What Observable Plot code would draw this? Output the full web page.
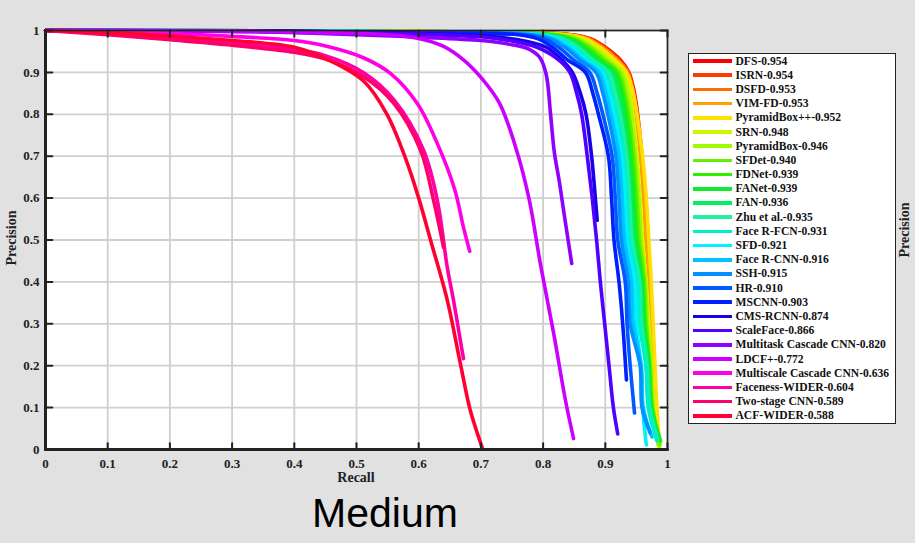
<!DOCTYPE html>
<html><head><meta charset="utf-8">
<script src="https://cdn.jsdelivr.net/npm/d3@7"></script>
<script src="https://cdn.jsdelivr.net/npm/@observablehq/plot@0.6"></script>
<style>
html,body{margin:0;padding:0;background:#e1e1e1;}
#wrap{position:relative;width:915px;height:543px;overflow:hidden;background:#e1e1e1;font-family:"Liberation Serif","Times New Roman",serif;}
#chart{position:absolute;left:0;top:0;width:915px;height:543px;}
#legend{position:absolute;left:688px;top:53px;width:208px;background:#fff;border:1.6px solid #222;box-sizing:border-box;}
.row{height:14.2px;display:flex;align-items:center;white-space:nowrap;}
.sw{width:39px;height:3.6px;margin-left:3.5px;margin-right:4px;flex:none;}
.lt{font-weight:bold;font-size:11.6px;color:#111;}
.ylab{position:absolute;font-weight:bold;font-size:14px;color:#222;transform:rotate(-90deg);transform-origin:center;white-space:nowrap;}
#xlab{position:absolute;left:306px;width:100px;text-align:center;top:470px;font-weight:bold;font-size:14px;color:#222;}
#title{position:absolute;left:285px;width:200px;text-align:center;top:490px;font-family:"Liberation Sans",Arial,sans-serif;font-size:41px;color:#000;}
</style></head>
<body>
<div id="wrap">
  <div id="chart"></div>
  <div id="legend"></div>
  <div class="ylab" style="left:-20px;top:230px;width:64px;text-align:center;">Precision</div>
  <div class="ylab" style="left:873px;top:222px;width:64px;text-align:center;">Precision</div>
  <div id="xlab">Recall</div>
  <div id="title">Medium</div>
</div>
<script>
// ---- data ----
const methods = ["DFS","ISRN","DSFD","VIM-FD","PyramidBox++","SRN","PyramidBox","SFDet","FDNet","FANet","FAN","Zhu et al.","Face R-FCN","SFD","Face R-CNN","SSH","HR","MSCNN","CMS-RCNN","ScaleFace","Multitask Cascade CNN","LDCF+","Multiscale Cascade CNN","Faceness-WIDER","Two-stage CNN","ACF-WIDER"];
const apScores = ["0.954","0.954","0.953","0.953","0.952","0.948","0.946","0.940","0.939","0.939","0.936","0.935","0.931","0.921","0.916","0.915","0.910","0.903","0.874","0.866","0.820","0.772","0.636","0.604","0.589","0.588"];
const colors = ["#ff0000","#ff3a00","#ff6c00","#ffa000","#ffe000","#d4f500","#a0fa00","#66f000","#30f000","#10ea30","#00f060","#20f0a0","#00f0cc","#00f0ff","#00c4ff","#0090ff","#0058ff","#0020ff","#1800e8","#5000ff","#9000ff","#cc00ff","#ff00e6","#ff00a8","#ff0068","#ff0030"];
const xTicks = [0,0.1,0.2,0.3,0.4,0.5,0.6,0.7,0.8,0.9,1];
const xTickLabels = ["0","0.1","0.2","0.3","0.4","0.5","0.6","0.7","0.8","0.9","1"];
const yTicks = [0,0.1,0.2,0.3,0.4,0.5,0.6,0.7,0.8,0.9,1];
const yTickLabels = ["0","0.1","0.2","0.3","0.4","0.5","0.6","0.7","0.8","0.9","1"];

// precision-recall points [recall, precision]
const prDFS   = [[0,1],[0.4,0.999],[0.65,0.997],[0.845,0.99],[0.877,0.98],[0.9,0.96],[0.924,0.93],[0.938,0.9],[0.947,0.85],[0.952,0.8],[0.959,0.7],[0.964,0.6],[0.968,0.5],[0.972,0.4],[0.975,0.3],[0.978,0.2],[0.981,0.1],[0.986,0.01]];
const prISRN  = [[0,1],[0.4,0.999],[0.65,0.997],[0.843,0.99],[0.875,0.98],[0.898,0.96],[0.922,0.93],[0.937,0.9],[0.946,0.85],[0.951,0.8],[0.958,0.7],[0.963,0.6],[0.967,0.5],[0.971,0.4],[0.974,0.3],[0.977,0.2],[0.98,0.1],[0.985,0.012]];
const prDSFD  = [[0,1],[0.4,0.999],[0.65,0.997],[0.841,0.99],[0.873,0.98],[0.896,0.96],[0.92,0.93],[0.936,0.9],[0.945,0.85],[0.95,0.8],[0.957,0.7],[0.962,0.6],[0.966,0.5],[0.971,0.4],[0.974,0.3],[0.977,0.2],[0.98,0.1],[0.986,0.008]];
const prVIM   = [[0,1],[0.4,0.999],[0.65,0.997],[0.839,0.99],[0.871,0.98],[0.894,0.96],[0.918,0.93],[0.935,0.9],[0.945,0.85],[0.95,0.8],[0.957,0.7],[0.962,0.6],[0.966,0.5],[0.972,0.4],[0.975,0.3],[0.978,0.2],[0.981,0.1],[0.985,0.02]];
const prPBpp  = [[0,1],[0.4,0.999],[0.65,0.997],[0.836,0.99],[0.868,0.98],[0.891,0.96],[0.915,0.93],[0.934,0.9],[0.945,0.85],[0.951,0.8],[0.96,0.7],[0.966,0.6],[0.97,0.5],[0.974,0.4],[0.977,0.3],[0.98,0.2],[0.983,0.1],[0.987,0.015]];
const prSRN   = [[0,1],[0.4,0.999],[0.63,0.997],[0.83,0.99],[0.862,0.98],[0.885,0.96],[0.909,0.93],[0.929,0.9],[0.939,0.85],[0.944,0.8],[0.951,0.7],[0.956,0.6],[0.96,0.5],[0.966,0.4],[0.97,0.3],[0.974,0.2],[0.978,0.1],[0.985,0.01]];
const prPB    = [[0,1],[0.4,0.999],[0.63,0.997],[0.825,0.99],[0.857,0.98],[0.88,0.96],[0.904,0.93],[0.926,0.9],[0.936,0.85],[0.942,0.8],[0.949,0.7],[0.954,0.6],[0.958,0.5],[0.965,0.4],[0.968,0.3],[0.973,0.2],[0.977,0.1],[0.987,0.005]];
const prSFDet = [[0,1],[0.4,0.999],[0.62,0.996],[0.82,0.99],[0.852,0.98],[0.875,0.96],[0.899,0.93],[0.922,0.9],[0.932,0.85],[0.938,0.8],[0.946,0.7],[0.951,0.6],[0.955,0.5],[0.963,0.4],[0.966,0.3],[0.972,0.2],[0.976,0.1],[0.988,0.012]];
const prFDNet = [[0,1],[0.4,0.999],[0.62,0.996],[0.815,0.99],[0.847,0.98],[0.87,0.96],[0.894,0.93],[0.918,0.9],[0.929,0.85],[0.935,0.8],[0.943,0.7],[0.948,0.6],[0.952,0.5],[0.961,0.4],[0.964,0.3],[0.971,0.2],[0.975,0.1],[0.989,0.02]];
const prFANet = [[0,1],[0.4,0.999],[0.61,0.996],[0.81,0.99],[0.842,0.98],[0.865,0.96],[0.889,0.93],[0.915,0.9],[0.926,0.85],[0.932,0.8],[0.94,0.7],[0.945,0.6],[0.949,0.5],[0.959,0.4],[0.962,0.3],[0.97,0.2],[0.974,0.1],[0.987,0.025]];
const prFAN   = [[0,1],[0.4,0.999],[0.61,0.996],[0.805,0.99],[0.837,0.98],[0.86,0.96],[0.884,0.93],[0.91,0.9],[0.921,0.85],[0.928,0.8],[0.937,0.7],[0.942,0.6],[0.946,0.5],[0.957,0.4],[0.96,0.3],[0.969,0.2],[0.973,0.1],[0.985,0.03]];
const prZhu   = [[0,1],[0.4,0.999],[0.6,0.996],[0.8,0.99],[0.832,0.98],[0.855,0.96],[0.879,0.93],[0.905,0.9],[0.916,0.85],[0.924,0.8],[0.934,0.7],[0.939,0.6],[0.943,0.5],[0.955,0.4],[0.958,0.3],[0.967,0.2],[0.971,0.1],[0.984,0.025]];
const prRFCN  = [[0,1],[0.4,0.999],[0.6,0.996],[0.795,0.99],[0.827,0.98],[0.85,0.96],[0.874,0.93],[0.9,0.9],[0.911,0.85],[0.919,0.8],[0.93,0.7],[0.935,0.6],[0.939,0.5],[0.952,0.4],[0.955,0.3],[0.965,0.2],[0.969,0.1],[0.983,0.02]];
const prSFD   = [[0,1],[0.4,0.999],[0.59,0.995],[0.79,0.99],[0.822,0.98],[0.845,0.96],[0.869,0.93],[0.895,0.9],[0.906,0.85],[0.914,0.8],[0.926,0.7],[0.931,0.6],[0.935,0.5],[0.947,0.4],[0.95,0.3],[0.957,0.2],[0.96,0.1],[0.966,0.011]];
const prRCNN  = [[0,1],[0.4,0.999],[0.59,0.995],[0.785,0.99],[0.817,0.98],[0.84,0.96],[0.864,0.93],[0.89,0.9],[0.901,0.85],[0.909,0.8],[0.922,0.7],[0.927,0.6],[0.931,0.5],[0.942,0.4],[0.945,0.3],[0.958,0.2],[0.961,0.1],[0.975,0.03]];
const prSSH   = [[0,1],[0.4,0.998],[0.58,0.995],[0.78,0.99],[0.812,0.98],[0.835,0.96],[0.859,0.93],[0.885,0.9],[0.896,0.85],[0.904,0.8],[0.917,0.7],[0.922,0.6],[0.926,0.5],[0.937,0.4],[0.94,0.3],[0.956,0.2],[0.959,0.1],[0.972,0.04]];
const prHR    = [[0,1],[0.4,0.998],[0.57,0.994],[0.77,0.99],[0.802,0.98],[0.825,0.96],[0.849,0.93],[0.875,0.9],[0.887,0.85],[0.896,0.8],[0.911,0.7],[0.916,0.6],[0.92,0.5],[0.932,0.4],[0.935,0.3],[0.94,0.2],[0.947,0.087]];
const prMSCNN = [[0,1],[0.4,0.998],[0.56,0.994],[0.76,0.99],[0.792,0.98],[0.815,0.96],[0.839,0.93],[0.868,0.9],[0.88,0.85],[0.889,0.8],[0.905,0.7],[0.91,0.6],[0.914,0.5],[0.922,0.4],[0.928,0.3],[0.934,0.166]];
const prCMS   = [[0,1],[0.4,0.998],[0.6,0.993],[0.72,0.985],[0.77,0.975],[0.805,0.96],[0.83,0.93],[0.847,0.9],[0.86,0.85],[0.869,0.8],[0.878,0.7],[0.884,0.6],[0.887,0.547]];
const prScale = [[0,1],[0.3,0.998],[0.55,0.993],[0.7,0.985],[0.75,0.975],[0.79,0.96],[0.825,0.93],[0.843,0.9],[0.854,0.85],[0.862,0.8],[0.871,0.7],[0.879,0.6],[0.886,0.5],[0.892,0.4],[0.899,0.3],[0.906,0.2],[0.913,0.1],[0.92,0.037]];
const prMTCNN = [[0,1],[0.3,0.998],[0.5,0.99],[0.6,0.984],[0.7,0.976],[0.75,0.966],[0.778,0.955],[0.795,0.935],[0.805,0.895],[0.812,0.8],[0.818,0.71],[0.826,0.64],[0.834,0.56],[0.846,0.444]];
const prLDCF  = [[0,1],[0.3,0.999],[0.45,0.995],[0.55,0.99],[0.6,0.981],[0.64,0.962],[0.672,0.93],[0.7,0.888],[0.73,0.826],[0.759,0.706],[0.778,0.594],[0.796,0.44],[0.817,0.277],[0.836,0.117],[0.849,0.026]];
const prMSCC  = [[0,1],[0.1,0.997],[0.2,0.993],[0.3,0.986],[0.4,0.976],[0.447,0.964],[0.511,0.935],[0.555,0.897],[0.598,0.825],[0.63,0.73],[0.658,0.62],[0.672,0.53],[0.682,0.473]];
const prFaceness = [[0,1],[0.1,0.993],[0.2,0.983],[0.3,0.97],[0.4,0.955],[0.45,0.94],[0.511,0.9],[0.56,0.835],[0.608,0.714],[0.63,0.594],[0.646,0.434],[0.656,0.356],[0.667,0.26],[0.672,0.217]];
const prTwoStage = [[0,1],[0.1,0.99],[0.2,0.978],[0.3,0.965],[0.4,0.948],[0.45,0.932],[0.511,0.89],[0.56,0.826],[0.603,0.714],[0.624,0.594],[0.64,0.482]];
const prACF   = [[0,1],[0.1,0.995],[0.2,0.987],[0.3,0.976],[0.4,0.96],[0.458,0.928],[0.511,0.88],[0.549,0.8],[0.58,0.69],[0.6,0.6],[0.619,0.5],[0.646,0.356],[0.667,0.205],[0.683,0.093],[0.702,0.005]];

const curves = [prDFS,prISRN,prDSFD,prVIM,prPBpp,prSRN,prPB,prSFDet,prFDNet,prFANet,prFAN,prZhu,prRFCN,prSFD,prRCNN,prSSH,prHR,prMSCNN,prCMS,prScale,prMTCNN,prLDCF,prMSCC,prFaceness,prTwoStage,prACF];

// ---- segment tables built from the tick arrays (grid lines and inward ticks drawn as paths) ----
const ink = "#222";
const gridColor = "#cfcfcf";
function segs(vals, fromTo, vertical) {
  const rows = [];
  vals.forEach((t, i) => {
    const k = (vertical ? "v" : "h") + i + "-" + fromTo[0];
    rows.push(vertical ? {x: t, y: fromTo[0], k} : {x: fromTo[0], y: t, k});
    rows.push(vertical ? {x: t, y: fromTo[1], k} : {x: fromTo[1], y: t, k});
  });
  return rows;
}
const gridRows = [...segs(xTicks, [0, 1], true), ...segs(yTicks, [0, 1], false)];
const tickRows = [
  ...segs(xTicks, [0, 0.015], true), ...segs(xTicks, [1, 0.985], true),
  ...segs(yTicks, [0, 0.011], false), ...segs(yTicks, [1, 0.989], false)
];
const axisRows = [{x: 0, y: 0, k: "a"}, {x: 0, y: 1, k: "a"}, {x: 0, y: 0, k: "b"}, {x: 1, y: 0, k: "b"}];

const lineMarks = curves.map((c, i) => Plot.line(c, {x: d => d[0], y: d => d[1], stroke: colors[i], strokeWidth: 3.6, curve: "catmull-rom"}));
const chart = Plot.plot({
  width: 915, height: 543,
  marginLeft: 45, marginRight: 248, marginTop: 30, marginBottom: 94,
  x: {domain: [0, 1]},
  y: {domain: [0, 1]},
  style: {background: "transparent", fontFamily: "'Liberation Serif', 'Times New Roman', serif", fontWeight: "bold", fontSize: "13px", color: ink},
  marks: [
    Plot.frame({fill: "white", stroke: null}),
    Plot.line(gridRows, {x: "x", y: "y", z: "k", stroke: gridColor, strokeWidth: 1.8}),
    Plot.axisX({ticks: xTicks, tickFormat: d => xTickLabels[Math.round(d * 10)], tickSize: 0, tickPadding: 9, label: null}),
    Plot.axisY({ticks: yTicks, tickFormat: d => yTickLabels[Math.round(d * 10)], tickSize: 0, tickPadding: 6, label: null}),
    ...lineMarks,
    Plot.line(tickRows, {x: "x", y: "y", z: "k", stroke: ink, strokeWidth: 2}),
    Plot.frame({stroke: ink, strokeWidth: 1.6}),
    Plot.line(axisRows, {x: "x", y: "y", z: "k", stroke: ink, strokeWidth: 3})
  ]
});
document.getElementById("chart").appendChild(chart);

// ---- legend ----
const legend = document.getElementById("legend");
methods.forEach((m, i) => {
  const row = document.createElement("div");
  row.className = "row";
  const sw = document.createElement("div");
  sw.className = "sw";
  sw.style.background = colors[i];
  const t = document.createElement("span");
  t.className = "lt";
  t.textContent = m + "-" + apScores[i];
  row.appendChild(sw); row.appendChild(t);
  legend.appendChild(row);
});
</script>
</body></html>
